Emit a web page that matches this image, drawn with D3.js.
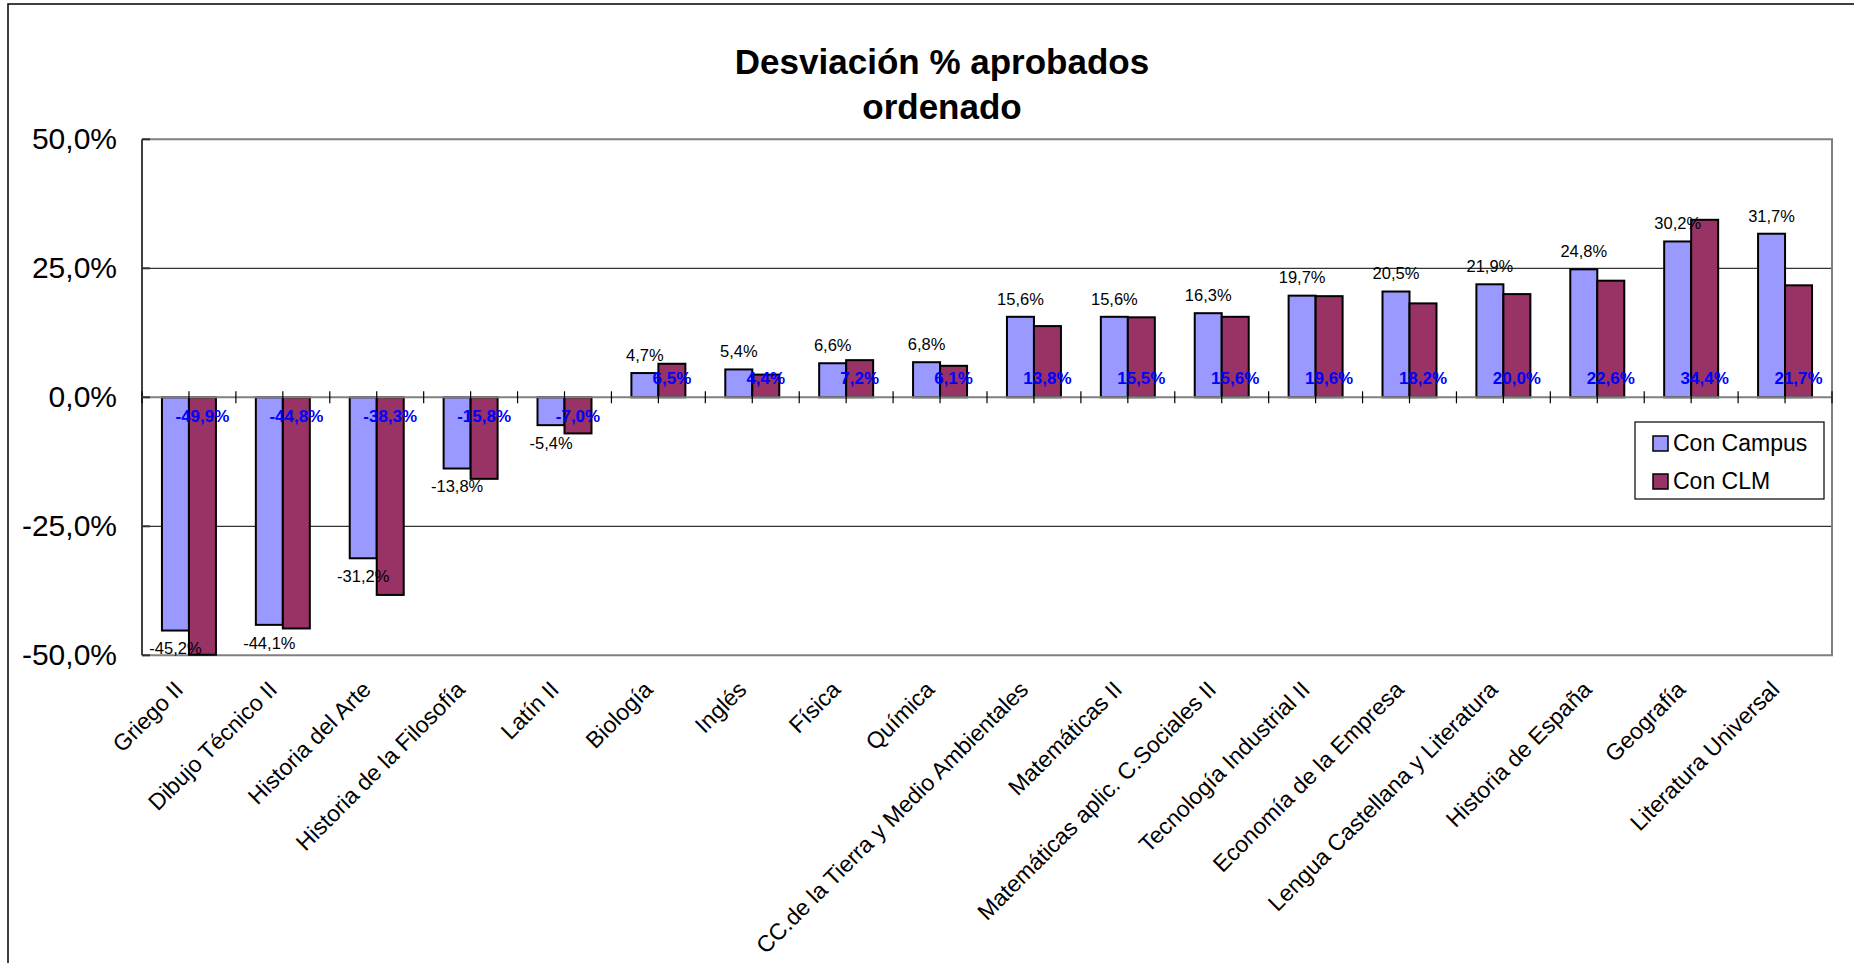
<!DOCTYPE html>
<html>
<head>
<meta charset="utf-8">
<script src="https://cdn.jsdelivr.net/npm/d3@7"></script>
<style>
  html, body { margin: 0; padding: 0; background: #fff; }
  svg { display: block; font-family: "Liberation Sans", Arial, sans-serif; }
</style>
</head>
<body>
<svg id="chart" width="1854" height="963"></svg>
<script>
const categories = ["Griego II", "Dibujo Técnico II", "Historia del Arte", "Historia de la Filosofía", "Latín II", "Biología", "Inglés", "Física", "Química", "CC.de la Tierra y Medio Ambientales", "Matemáticas II", "Matemáticas aplic. C.Sociales II", "Tecnología Industrial II", "Economía de la Empresa", "Lengua Castellana y Literatura", "Historia de España", "Geografía", "Literatura Universal"];
const conCampus = [-45.2, -44.1, -31.2, -13.8, -5.4, 4.7, 5.4, 6.6, 6.8, 15.6, 15.6, 16.3, 19.7, 20.5, 21.9, 24.8, 30.2, 31.7];
const conCLM = [-49.9, -44.8, -38.3, -15.8, -7.0, 6.5, 4.4, 7.2, 6.1, 13.8, 15.5, 15.6, 19.6, 18.2, 20.0, 22.6, 34.4, 21.7];
const seriesNames = ["Con Campus", "Con CLM"];
const yTicks = [-50, -25, 0, 25, 50];
const titleLines = ["Desviación % aprobados", "ordenado"];

const colors = {"Con Campus": "#9999FF", "Con CLM": "#993366"};
const fmt = v => v.toFixed(1).replace(".", ",") + "%";

const svg = d3.select("#chart");
const W = 1854, H = 963;
const plot = {left: 142, right: 1832, top: 139.3, bottom: 655.3};

// outer chart border
svg.append("rect").attr("x", 8).attr("y", 4).attr("width", 1900).attr("height", 1100)
  .attr("fill", "#fff").attr("stroke", "#000").attr("stroke-width", 1.5);

// title
svg.append("g").selectAll("text").data(titleLines).join("text")
  .attr("x", 942).attr("y", (d, i) => 74 + i * 45)
  .attr("text-anchor", "middle").attr("font-weight", "bold").attr("font-size", 35)
  .attr("fill", "#000").text(d => d);

const x0 = d3.scaleBand().domain(categories).range([plot.left, plot.right]).paddingInner(0.425).paddingOuter(0.2125);
const x1 = d3.scaleBand().domain(seriesNames).range([0, x0.bandwidth()]);
const y = d3.scaleLinear().domain([-50, 50]).range([plot.bottom, plot.top]);

// gridlines
svg.append("g").selectAll("line").data(yTicks.filter(t => t !== 0 && Math.abs(t) !== 50)).join("line")
  .attr("x1", plot.left).attr("x2", plot.right).attr("y1", d => y(d)).attr("y2", d => y(d))
  .attr("stroke", "#000").attr("stroke-width", 1);

// plot border (top, right, bottom grey)
svg.append("path")
  .attr("d", `M${plot.left},${y(50)}H${plot.right}V${y(-50)}H${plot.left}`)
  .attr("fill", "none").attr("stroke", "#808080").attr("stroke-width", 2);

// bars
const data = categories.map((c, i) => ({cat: c, vals: [
  {s: "Con Campus", v: conCampus[i]}, {s: "Con CLM", v: conCLM[i]}]}));

const groups = svg.append("g").selectAll("g").data(data).join("g")
  .attr("transform", d => `translate(${x0(d.cat)},0)`);
groups.selectAll("rect").data(d => d.vals).join("rect")
  .attr("x", d => x1(d.s)).attr("width", x1.bandwidth())
  .attr("y", d => y(Math.max(0, d.v))).attr("height", d => Math.abs(y(d.v) - y(0)))
  .attr("fill", d => colors[d.s]).attr("stroke", "#000").attr("stroke-width", 2);

// zero axis line
svg.append("line").attr("x1", plot.left).attr("x2", plot.right).attr("y1", y(0)).attr("y2", y(0))
  .attr("stroke", "#808080").attr("stroke-width", 2);

// category ticks on zero axis (boundaries and centers)
const gap = (x0.step() - x0.bandwidth()) / 2;
const tickXs = categories.map(c => x0(c) - gap).concat([plot.right])
  .concat(categories.map(c => x0(c) + x0.bandwidth() / 2));
svg.append("g").selectAll("line").data(tickXs).join("line")
  .attr("x1", d => d).attr("x2", d => d).attr("y1", y(0) - 6).attr("y2", y(0) + 6)
  .attr("stroke", "#000").attr("stroke-width", 1.2);

// left axis
const yAxis = d3.axisLeft(y).tickValues(yTicks).tickSize(0).tickPadding(25).tickFormat(fmt);
const ya = svg.append("g").attr("transform", `translate(${plot.left},0)`).call(yAxis);
ya.select(".domain").remove();
ya.selectAll("text").attr("font-size", 30).attr("fill", "#000")
  .attr("font-family", "'Liberation Sans', Arial, sans-serif");
svg.append("line").attr("x1", plot.left).attr("x2", plot.left).attr("y1", y(50)).attr("y2", y(-50))
  .attr("stroke", "#000").attr("stroke-width", 1.5);
svg.append("g").selectAll("line").data(yTicks).join("line")
  .attr("x1", plot.left).attr("x2", plot.left + 8).attr("y1", d => y(d)).attr("y2", d => y(d))
  .attr("stroke", "#333").attr("stroke-width", 2);

// data labels: Con Campus (black, at bar end)
groups.append("text")
  .attr("x", x1("Con Campus") + x1.bandwidth() / 2)
  .attr("y", d => d.vals[0].v >= 0 ? y(d.vals[0].v) - 18 : y(d.vals[0].v) + 18)
  .attr("dy", "0.35em").attr("text-anchor", "middle").attr("font-size", 16.5).attr("fill", "#000")
  .text(d => fmt(d.vals[0].v));

// data labels: Con CLM (blue bold, inside base)
groups.append("text")
  .attr("x", x1("Con CLM") + x1.bandwidth() / 2)
  .attr("y", d => d.vals[1].v >= 0 ? y(0) - 19 : y(0) + 19)
  .attr("dy", "0.35em").attr("text-anchor", "middle").attr("font-size", 17)
  .attr("font-weight", "bold").attr("fill", "#0000FF")
  .text(d => fmt(d.vals[1].v));

// category labels
svg.append("g").selectAll("text").data(categories).join("text")
  .attr("transform", d => `translate(${x0(d) + x0.bandwidth() / 2 - 10},${plot.bottom + 30}) rotate(-45)`)
  .attr("text-anchor", "end").attr("dy", "0.35em").attr("font-size", 23).attr("fill", "#000")
  .text(d => d);

// legend
const lg = svg.append("g").attr("transform", "translate(1635,422)");
lg.append("rect").attr("width", 189).attr("height", 77).attr("fill", "#fff")
  .attr("stroke", "#000").attr("stroke-width", 1.2);
const li = lg.selectAll("g").data(seriesNames).join("g")
  .attr("transform", (d, i) => `translate(18,${21 + i * 38})`);
li.append("rect").attr("x", 0).attr("y", -7).attr("width", 15).attr("height", 15)
  .attr("fill", d => colors[d]).attr("stroke", "#000").attr("stroke-width", 1.5);
li.append("text").attr("x", 20).attr("dy", "0.36em").attr("font-size", 23).attr("fill", "#000")
  .text(d => d);
</script>
</body>
</html>
